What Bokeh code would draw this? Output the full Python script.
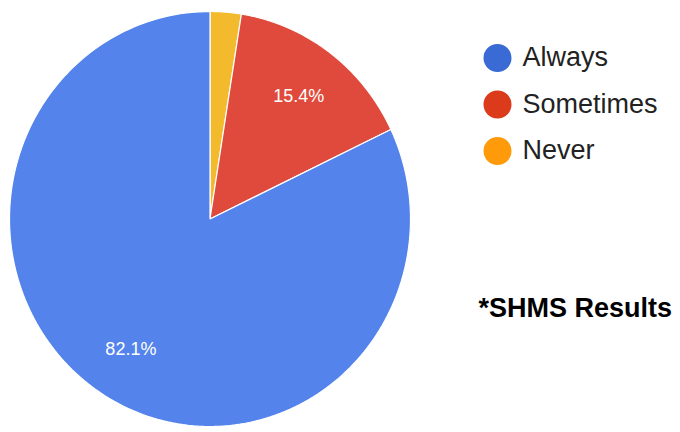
import numpy as np
from bokeh.plotting import figure
from bokeh.models import Range1d
from bokeh.core.properties import value
from bokeh.embed import file_html
from bokeh.resources import INLINE

# ---- data ----
categories = ["Always", "Sometimes", "Never"]
percents = [82.1, 15.4, 2.5]
slice_colors = ["#5483EC", "#E04A3C", "#F2BA2C"]
legend_colors = ["#3A6AD4", "#DB3A1B", "#FF9A0A"]
note_text = "*SHMS Results"

# ---- layout (screen pixel coordinates) ----
W, H = 680, 432
cx, cy = 209.5, 218.5
rx, ry = 200.5, 207.5
label_frac = 0.74
font = "Liberation Sans"

p = figure(width=W, height=H, output_backend="svg", toolbar_location=None,
           x_range=Range1d(0, W), y_range=Range1d(H, 0),
           min_border=0, outline_line_color=None, background_fill_color="white",
           border_fill_color="white")
p.axis.visible = False
p.grid.visible = False

# Slices drawn clockwise from 12 o'clock in reverse category order
vals = np.array(percents, dtype=float)
order = list(range(len(vals)))[::-1]
fr = vals[order] / vals.sum()
starts = np.concatenate([[0.0], np.cumsum(fr)[:-1]]) * 2 * np.pi
ends = np.cumsum(fr) * 2 * np.pi

xs, ys, cols, lx, ly, lt = [], [], [], [], [], []
for k, idx in enumerate(order):
    th = np.linspace(starts[k], ends[k], 200)
    xs.append(np.concatenate([[cx], cx + rx * np.sin(th), [cx]]))
    ys.append(np.concatenate([[cy], cy - ry * np.cos(th), [cy]]))
    cols.append(slice_colors[idx])
    if percents[idx] >= 5:
        mid = 0.5 * (starts[k] + ends[k])
        lx.append(cx + label_frac * rx * np.sin(mid))
        ly.append(cy - label_frac * ry * np.cos(mid))
        lt.append(f"{percents[idx]:.1f}%")

p.patches(xs, ys, fill_color=cols, line_color="white", line_width=1.2)
p.text(lx, ly, text=lt, text_color="white", text_font=value(font),
       text_font_size="18px", text_align="center", text_baseline="middle")

# Legend
leg_x, leg_y0, leg_dy = 497, 57.5, 46.5
leg_ys = [leg_y0 + i * leg_dy for i in range(len(categories))]
p.scatter([leg_x] * len(categories), leg_ys, size=28, marker="circle",
          fill_color=legend_colors, line_color=None)
p.text([leg_x + 25] * len(categories), [y - 1 for y in leg_ys], text=categories,
       text_color="#222222", text_font=value(font), text_font_size="27px",
       text_align="left", text_baseline="middle")

# Note
p.text([478], [307], text=[note_text], text_color="black", text_font=value(font),
       text_font_size="27px", text_font_style="bold", text_align="left",
       text_baseline="middle")

open("out.html", "w").write(file_html(p, INLINE))
